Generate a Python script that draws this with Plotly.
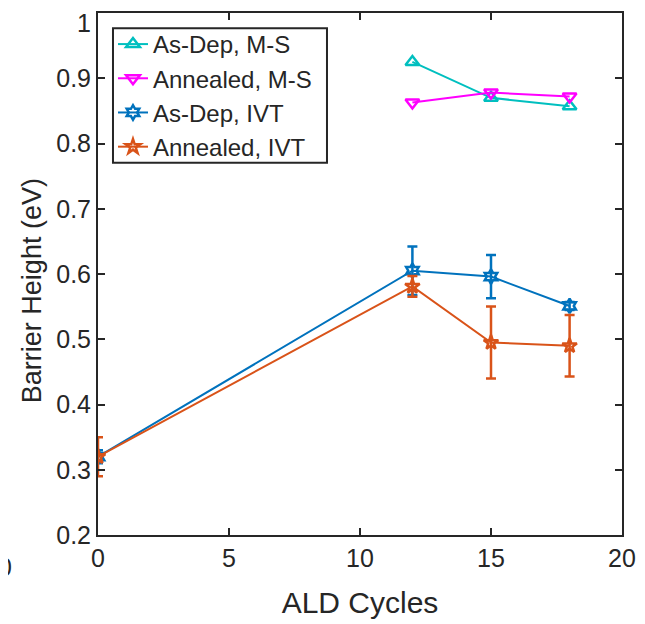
import plotly.graph_objects as go

x_ms = [12, 15, 18]
asdep_ms = [0.925, 0.870, 0.857]
anneal_ms = [0.863, 0.878, 0.872]

x_ivt = [0, 12, 15, 18]
asdep_ivt = [0.320, 0.605, 0.596, 0.551]
asdep_ivt_err = [0.010, 0.037, 0.033, 0.006]
anneal_ivt = [0.320, 0.581, 0.495, 0.490]
anneal_ivt_err = [0.030, 0.016, 0.055, 0.047]

y_ticks = [0.2, 0.3, 0.4, 0.5, 0.6, 0.7, 0.8, 0.9, 1.0]
y_ticktext = ["0.2", "0.3", "0.4", "0.5", "0.6", "0.7", "0.8", "0.9", ""]
x_ticks = [0, 5, 10, 15, 20]

FONT = "Liberation Sans, Arial, sans-serif"
AX = "#262626"

fig = go.Figure()
fig.add_trace(go.Scatter(x=x_ms, y=asdep_ms, name="As-Dep, M-S", mode="lines+markers",
                         line=dict(color="#00BFBF", width=2),
                         marker=dict(symbol="triangle-up-open", size=12, line=dict(width=2.5, color="#00BFBF"))))
fig.add_trace(go.Scatter(x=x_ms, y=anneal_ms, name="Annealed, M-S", mode="lines+markers",
                         line=dict(color="#FF00FF", width=2),
                         marker=dict(symbol="triangle-down-open", size=12, line=dict(width=2.5, color="#FF00FF"))))
fig.add_trace(go.Scatter(x=x_ivt, y=asdep_ivt, name="As-Dep, IVT", mode="lines+markers",
                         line=dict(color="#0072BD", width=2),
                         error_y=dict(type="data", array=asdep_ivt_err, color="#0072BD", thickness=2.5, width=5),
                         marker=dict(symbol="hexagram-open", size=11, line=dict(width=2.5, color="#0072BD"))))
fig.add_trace(go.Scatter(x=x_ivt, y=anneal_ivt, name="Annealed, IVT", mode="lines+markers",
                         line=dict(color="#D95319", width=2),
                         error_y=dict(type="data", array=anneal_ivt_err, color="#D95319", thickness=2.5, width=5),
                         marker=dict(symbol="star-open", size=11, line=dict(width=2.5, color="#D95319"))))

axis_common = dict(showline=True, linecolor=AX, linewidth=2, mirror="ticks",
                   ticks="inside", ticklen=7, tickwidth=2, tickcolor=AX,
                   showgrid=False, zeroline=False, automargin=False,
                   ticklabeloverflow="allow",
                   tickfont=dict(family=FONT, size=25, color=AX))

fig.update_layout(
    width=645, height=624,
    margin=dict(l=90, r=31, t=5, b=97),
    plot_bgcolor="white", paper_bgcolor="white",
    font=dict(family=FONT, color=AX),
    xaxis=dict(range=[0, 20], tickvals=x_ticks,
               title=dict(text="ALD Cycles", font=dict(family=FONT, size=30, color=AX), standoff=21),
               **axis_common),
    yaxis=dict(range=[0.2, 1.0], tickvals=y_ticks, ticktext=y_ticktext,
               **axis_common),
    legend=dict(x=0.0286, y=0.9828, xanchor="left", yanchor="top",
                borderwidth=0, bgcolor="rgba(0,0,0,0)",
                font=dict(family=FONT, size=24, color=AX),
                tracegroupgap=0, itemwidth=30),
    showlegend=True,
    shapes=[dict(type="rect", xref="paper", yref="paper",
                 x0=0.0286, x1=0.437, y0=0.713, y1=0.971,
                 line=dict(color=AX, width=2), fillcolor="white", layer="below")],
)

# top tick label "1", drawn just inside the figure so it is not clipped
fig.add_annotation(text="1", xref="paper", yref="paper", x=-0.0115, y=1.0096,
                   xanchor="right", yanchor="top", showarrow=False, borderpad=0,
                   font=dict(family=FONT, size=25, color=AX))

fig.add_annotation(text="Barrier Height (eV)", xref="paper", yref="paper",
                   x=-0.126, y=0.469, textangle=-90, xanchor="center", yanchor="middle",
                   showarrow=False, font=dict(family=FONT, size=27, color=AX))

fig.add_annotation(text="20", xref="paper", yref="paper", x=-0.160, y=-0.061,
                   xanchor="right", yanchor="middle", showarrow=False,
                   font=dict(family=FONT, size=25, color=AX))

fig.write_html("out.html")
